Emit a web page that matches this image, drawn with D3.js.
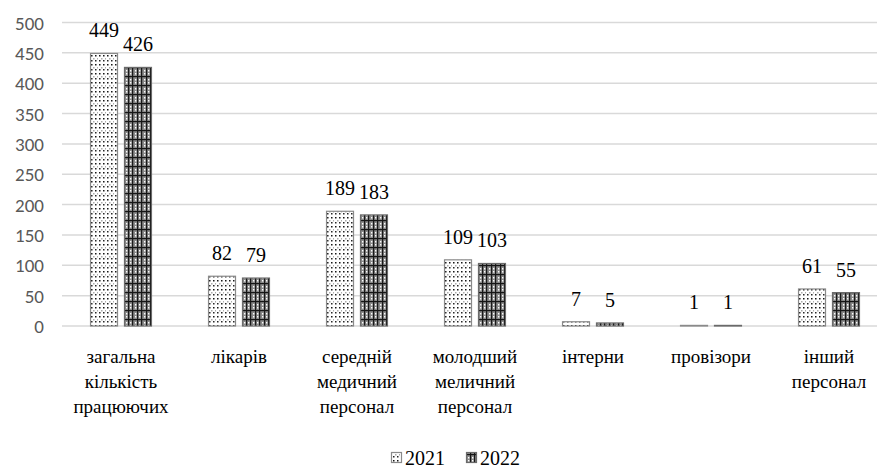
<!DOCTYPE html>
<html>
<head>
<meta charset="utf-8">
<script src="https://cdn.jsdelivr.net/npm/d3@7/dist/d3.min.js"></script>
<style>
  html, body { margin: 0; padding: 0; background: #fff; }
  svg { display: block; }
  svg text.serif { font-family: "Liberation Serif", "Times New Roman", Tinos !important; }
  svg text.sans { font-family: Carlito, Lato !important; }
</style>
</head>
<body>
<svg id="chart" width="877" height="469"></svg>
<script>
const categories = [
  ["загальна", "кількість", "працюючих"],
  ["лікарів"],
  ["середній", "медичний", "персонал"],
  ["молодший", "меличний", "персонал"],
  ["інтерни"],
  ["провізори"],
  ["інший", "персонал"]
];
const series = ["2021", "2022"];
const values2021 = [449, 82, 189, 109, 7, 1, 61];
const values2022 = [426, 79, 183, 103, 5, 1, 55];
const yTicks = [0, 50, 100, 150, 200, 250, 300, 350, 400, 450, 500];

const SERIF = '"Liberation Serif", "Times New Roman", Tinos';
const SANS = 'Carlito, Lato';

const svg = d3.select("#chart");
const W = 877;
const defs = svg.append("defs");

// Pattern for 2021: white with dots
const p1 = defs.append("pattern").attr("id", "pat2021")
  .attr("patternUnits", "userSpaceOnUse").attr("width", 8).attr("height", 9);
p1.append("rect").attr("width", 8).attr("height", 9).attr("fill", "#ffffff");
[[1,1,"#111"],[5,1,"#111"],[3,4,"#aaa"],[7,4,"#aaa"],[1,6,"#222"],[5,6,"#222"]].forEach(([x,y,c]) => {
  p1.append("rect").attr("x", x).attr("y", y).attr("width", 1.5).attr("height", 1.5).attr("fill", c);
});

// Pattern for 2022: gray with crosses
const p2 = defs.append("pattern").attr("id", "pat2022")
  .attr("patternUnits", "userSpaceOnUse").attr("width", 9).attr("height", 9);
p2.append("rect").attr("width", 9).attr("height", 9).attr("fill", "#8a8a8a");
p2.append("rect").attr("x", 2).attr("y", 0).attr("width", 1.2).attr("height", 9).attr("fill", "#151515");
p2.append("rect").attr("x", 6).attr("y", 0).attr("width", 1.2).attr("height", 9).attr("fill", "#151515");
p2.append("rect").attr("x", 0).attr("y", 4).attr("width", 9).attr("height", 1.2).attr("fill", "#151515");
[[0,1],[4,1],[0,7],[4,7]].forEach(([x,y]) => {
  p2.append("rect").attr("x", x).attr("y", y).attr("width", 1.3).attr("height", 1.5).attr("fill", "#fff");
});

const fills = { "2021": "url(#pat2021)", "2022": "url(#pat2022)" };
const strokes = { "2021": "#8a8a8a", "2022": "#6a6a6a" };

const y = d3.scaleLinear().domain([0, 500]).range([326, 22.5]);
const x0 = d3.scaleBand().domain(d3.range(categories.length)).range([62, 888])
  .paddingInner(0.475).paddingOuter(0.2375);
const x1 = d3.scaleBand().domain(series).range([0, x0.bandwidth()]).paddingInner(0.176).paddingOuter(0);

// gridlines
svg.append("g").selectAll("line").data(yTicks).join("line")
  .attr("x1", 62).attr("x2", W)
  .attr("y1", d => y(d)).attr("y2", d => y(d))
  .attr("stroke", "#d9d9d9").attr("stroke-width", 1.5);

// y tick labels
svg.append("g").selectAll("text").data(yTicks).join("text")
  .attr("class", "sans")
  .attr("font-family", SANS)
  .attr("x", 44).attr("y", d => y(d) + 7)
  .attr("text-anchor", "end")
  .attr("font-size", 19)
  .attr("fill", "#595959").text(d => d);

// bars
const data = categories.map((c, i) => ({ i, vals: [
  { s: "2021", v: values2021[i] }, { s: "2022", v: values2022[i] }
]}));

const groups = svg.append("g").selectAll("g").data(data).join("g")
  .attr("transform", d => `translate(${x0(d.i)},0)`);

groups.selectAll("rect").data(d => d.vals).join("rect")
  .attr("x", d => x1(d.s) + 0.5)
  .attr("y", d => y(d.v))
  .attr("width", x1.bandwidth() - 1)
  .attr("height", d => y(0) - y(d.v))
  .attr("fill", d => fills[d.s])
  .attr("stroke", d => strokes[d.s]).attr("stroke-width", 1.2);

groups.selectAll("text.val").data(d => d.vals).join("text")
  .attr("class", "val serif")
  .attr("font-family", SERIF)
  .attr("x", d => x1(d.s) + x1.bandwidth() / 2)
  .attr("y", d => y(d.v) - 16)
  .attr("text-anchor", "middle")
  .attr("font-size", 20)
  .attr("fill", "#000").text(d => d.v);

// category labels
categories.forEach((lines, i) => {
  svg.append("g").selectAll("text").data(lines).join("text")
    .attr("class", "serif")
    .attr("font-family", SERIF)
    .attr("x", x0(i) + x0.bandwidth() / 2)
    .attr("y", (d, k) => 363 + k * 25)
    .attr("text-anchor", "middle")
    .attr("font-size", 19)
    .attr("fill", "#000")
    .text(d => d);
});

// legend
const legendItems = [
  { s: "2021", sx: 391, tx: 405 },
  { s: "2022", sx: 466, tx: 480 }
];
const lg = svg.append("g");
lg.selectAll("rect").data(legendItems).join("rect")
  .attr("x", d => d.sx + 0.5).attr("y", 452.5).attr("width", 10).attr("height", 10)
  .attr("fill", d => fills[d.s]).attr("stroke", d => strokes[d.s]).attr("stroke-width", 1.2);
lg.selectAll("text").data(legendItems).join("text")
  .attr("class", "serif")
  .attr("font-family", SERIF)
  .attr("x", d => d.tx).attr("y", 465)
  .attr("font-size", 20)
  .attr("fill", "#000").text(d => d.s);
</script>
</body>
</html>
